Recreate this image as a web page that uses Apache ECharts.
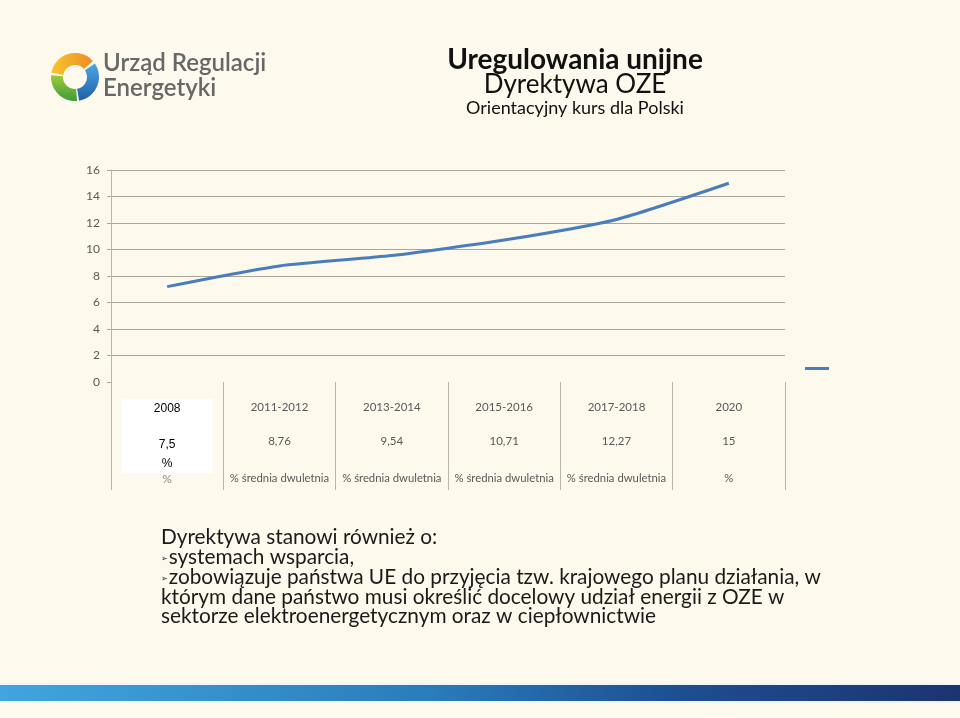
<!DOCTYPE html>
<html>
<head>
<meta charset="utf-8">
<script src="https://cdn.jsdelivr.net/npm/echarts@6/dist/echarts.min.js"></script>
<style>
html,body{margin:0;padding:0;background:#fdf9ec;}
#c{width:960px;height:718px;}
</style>
</head>
<body>
<div id="c"></div>
<script>
// ---- data ----
const categories = ['2008', '2011-2012', '2013-2014', '2015-2016', '2017-2018', '2020'];
const lineValues = [7.2, 8.76, 9.54, 10.71, 12.27, 15];
const valueLabels = ['7,5', '8,76', '9,54', '10,71', '12,27', '15'];
const unitLabels = ['%', '% średnia dwuletnia', '% średnia dwuletnia', '% średnia dwuletnia', '% średnia dwuletnia', '%'];
const yTicks = [0, 2, 4, 6, 8, 10, 12, 14, 16];
const titleLines = ['Uregulowania unijne', 'Dyrektywa OZE', 'Orientacyjny kurs dla Polski'];
const bodyLines = [
  'Dyrektywa stanowi również o:',
  'systemach wsparcia,',
  'zobowiązuje państwa UE do przyjęcia tzw. krajowego planu działania, w',
  'którym dane państwo musi określić docelowy udział energii z OZE w',
  'sektorze elektroenergetycznym oraz w ciepłownictwie'
];
const bodyBullets = [false, true, true, false, false];
const logoLines = ['Urząd Regulacji', 'Energetyki'];

const FONT = 'Lato, "Open Sans", sans-serif';
const chart = echarts.init(document.getElementById('c'), null, {renderer: 'canvas'});

const catIndex = {};
categories.forEach((c, i) => catIndex[c] = i);

const graphics = [];
// logo ring
const lcx = 75, lcy = 77;
graphics.push(
  {type: 'sector', shape: {cx: lcx, cy: lcy, r: 24, r0: 12, startAngle: 190 * Math.PI / 180, endAngle: 318 * Math.PI / 180},
   style: {fill: new echarts.graphic.LinearGradient(0, 0, 1, 0, [{offset: 0, color: '#f7c531'}, {offset: 1, color: '#ef8a23'}])}},
  {type: 'sector', shape: {cx: lcx, cy: lcy, r: 24, r0: 12, startAngle: 326 * Math.PI / 180, endAngle: 440 * Math.PI / 180},
   style: {fill: new echarts.graphic.LinearGradient(0, 0, 0, 1, [{offset: 0, color: '#4aa7e4'}, {offset: 1, color: '#1f5fa8'}])}},
  {type: 'sector', shape: {cx: lcx, cy: lcy, r: 24, r0: 12, startAngle: 85 * Math.PI / 180, endAngle: 184 * Math.PI / 180},
   style: {fill: new echarts.graphic.LinearGradient(0, 1, 0, 0, [{offset: 0, color: '#3f9a3a'}, {offset: 1, color: '#9ccc3c'}])}}
);
logoLines.forEach((t, i) => graphics.push({
  type: 'text', left: 103, top: 51 + i * 25,
  style: {text: t, font: '600 24px ' + FONT, fill: '#676767'}
}));
// titles
const titleStyles = [
  {font: 'bold 28px ' + FONT, y: 60, fill: '#111'},
  {font: '26px ' + FONT, y: 85, fill: '#111'},
  {font: '18px ' + FONT, y: 108, fill: '#111'}
];
titleLines.forEach((t, i) => graphics.push({
  type: 'text', x: 575, y: titleStyles[i].y,
  style: {text: t, font: titleStyles[i].font, fill: titleStyles[i].fill, textAlign: 'center', textVerticalAlign: 'middle'}
}));
// body text
const bodyY = [537, 557, 577, 597, 616];
bodyLines.forEach((t, i) => {
  graphics.push({
    type: 'text', x: 161, y: bodyY[i],
    style: {
      text: bodyBullets[i] ? '{b|➢}{t|' + t + '}' : '{t|' + t + '}',
      textVerticalAlign: 'middle',
      rich: {
        b: {font: '8px "DejaVu Sans"', fill: '#222', padding: [3, 1, 0, 0]},
        t: {font: '20.8px ' + FONT, fill: '#1a1a1a'}
      }
    }
  });
});
// bottom band
graphics.push(
  {type: 'rect', shape: {x: 0, y: 683, width: 960, height: 20}, style: {fill: '#eef6fb'}},
  {type: 'rect', shape: {x: 0, y: 685, width: 960, height: 16},
   style: {fill: new echarts.graphic.LinearGradient(0, 0, 1, 0, [
     {offset: 0, color: '#42a5de'}, {offset: 0.45, color: '#2a7cba'}, {offset: 0.7, color: '#1d4f93'}, {offset: 1, color: '#1b3470'}])}}
);

const option = {
  backgroundColor: '#fdf9ec',
  animation: false,
  textStyle: {fontFamily: FONT},
  grid: {left: 111, right: 175, top: 170, bottom: 336, containLabel: false},
  legend: {
    show: true, left: 800, top: 362, itemWidth: 24, itemHeight: 3, icon: 'rect',
    formatter: () => '', itemGap: 0,
    data: [{name: 'OZE', icon: 'rect'}]
  },
  xAxis: {
    type: 'category',
    data: categories,
    boundaryGap: true,
    axisLine: {show: false},
    axisTick: {show: true, length: 108, lineStyle: {color: '#b9b6ac', width: 1}},
    splitLine: {show: false},
    axisLabel: {
      interval: 0,
      margin: 17,
      verticalAlign: 'top',
      formatter: (v) => {
        const i = catIndex[v];
        if (i === 0) {
          return '{w1|' + v + '}\n{ws| }\n{w2|' + valueLabels[i] + '}\n{w3|%}\n{g|' + unitLabels[i] + '}';
        }
        return '{y|' + v + '}\n{s1| }\n{v|' + valueLabels[i] + '}\n{s2| }\n{p|' + unitLabels[i] + '}';
      },
      rich: {
        y: {fontFamily: FONT, fontSize: 11.5, color: '#595959', lineHeight: 16},
        s1: {fontSize: 10, lineHeight: 18},
        v: {fontFamily: FONT, fontSize: 11.5, color: '#595959', lineHeight: 16},
        s2: {fontSize: 10, lineHeight: 21},
        p: {fontFamily: FONT, fontSize: 11.3, color: '#595959', lineHeight: 16},
        w1: {fontFamily: 'Liberation Sans, Arial', fontSize: 12, color: '#000', lineHeight: 20, height: 20, width: 91, align: 'center', backgroundColor: '#ffffff'},
        ws: {fontSize: 10, lineHeight: 16, height: 16, width: 91, backgroundColor: '#ffffff'},
        w2: {fontFamily: 'Liberation Sans, Arial', fontSize: 12, color: '#000', lineHeight: 20, height: 20, width: 91, align: 'center', backgroundColor: '#ffffff'},
        w3: {fontFamily: 'Liberation Sans, Arial', fontSize: 12, color: '#000', lineHeight: 18, height: 18, width: 91, align: 'center', backgroundColor: '#ffffff'},
        g: {fontFamily: FONT, fontSize: 12, color: '#8a8a8a', lineHeight: 12}
      }
    }
  },
  yAxis: {
    type: 'value',
    min: 0, max: 16, interval: 2,
    axisLine: {show: true, lineStyle: {color: '#b9b6ac', width: 1}},
    axisTick: {show: true, length: 4, lineStyle: {color: '#aaa69c'}},
    splitLine: {show: true, showMinLine: false, lineStyle: {color: '#aaa69c', width: 1}},
    axisLabel: {
      margin: 11, color: '#595959', fontFamily: FONT, fontSize: 12,
      formatter: (v) => yTicks.indexOf(v) >= 0 ? String(v) : ''
    }
  },
  series: [{
    name: 'OZE',
    type: 'line',
    data: lineValues,
    smooth: 0.2,
    showSymbol: false,
    symbol: 'none',
    lineStyle: {color: '#4a7ebb', width: 3},
    itemStyle: {color: '#4a7ebb'},
    z: 5
  }],
  graphic: graphics
};
chart.setOption(option);
</script>
</body>
</html>
